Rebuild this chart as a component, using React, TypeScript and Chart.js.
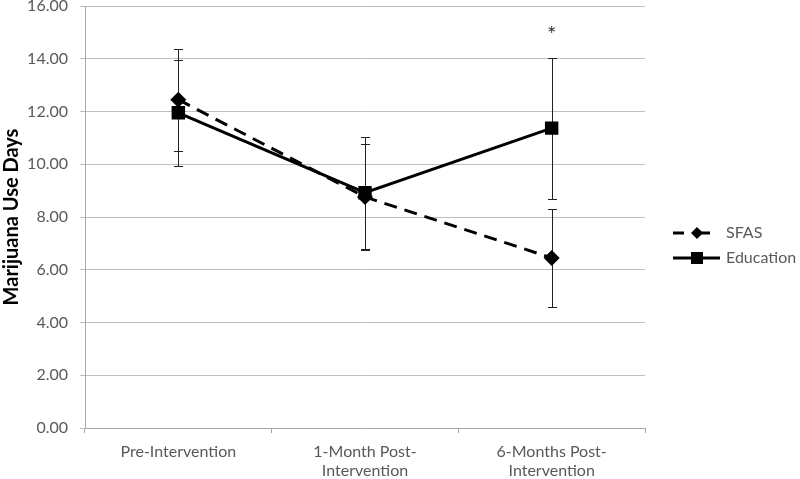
import React, { useEffect, useRef } from "react";
import { Chart, registerables } from "chart.js";

Chart.register(...registerables);

const categories: (string | string[])[] = [
  "Pre-Intervention",
  ["1-Month Post-", "Intervention"],
  ["6-Months Post-", "Intervention"],
];
const sfasValues = [12.45, 8.76, 6.45];
const sfasErrors = [1.93, 2.0, 1.87];
const eduValues = [11.95, 8.92, 11.37];
const eduErrors = [2.0, 2.12, 2.67];
const yTicks = { min: 0, max: 16, step: 2 };
const significance = [null, null, "*"];
const seriesNames = ["SFAS", "Education"];

const FONT = "Lato, 'Liberation Sans', sans-serif";
const TEXT = "#595959";

const errorBarPlugin = {
  id: "errorBars",
  beforeDatasetsDraw(chart: any) {
    const ctx = chart.ctx;
    const y = chart.scales.y;
    const errs = [sfasErrors, eduErrors];
    ctx.save();
    ctx.strokeStyle = "#222";
    ctx.lineWidth = 1;
    chart.data.datasets.forEach((ds: any, di: number) => {
      const meta = chart.getDatasetMeta(di);
      meta.data.forEach((pt: any, i: number) => {
        const v = ds.data[i];
        const e = errs[di][i];
        const top = Math.round(y.getPixelForValue(v + e)) + 0.5;
        const bot = Math.round(y.getPixelForValue(v - e)) + 0.5;
        const x = Math.round(pt.x) + 0.5;
        ctx.beginPath();
        ctx.moveTo(x, top);
        ctx.lineTo(x, bot);
        ctx.moveTo(x - 4.5, top);
        ctx.lineTo(x + 4.5, top);
        ctx.moveTo(x - 4.5, bot);
        ctx.lineTo(x + 4.5, bot);
        ctx.stroke();
      });
    });
    ctx.restore();
  },
  afterDatasetsDraw(chart: any) {
    const ctx = chart.ctx;
    const xs = chart.scales.x;
    const ys = chart.scales.y;
    ctx.save();
    ctx.fillStyle = "#333";
    ctx.font = `22px ${FONT}`;
    ctx.textAlign = "center";
    ctx.textBaseline = "middle";
    significance.forEach((s, i) => {
      if (!s) return;
      const top = Math.max(sfasValues[i] + sfasErrors[i], eduValues[i] + eduErrors[i]);
      ctx.fillText(s, xs.getPixelForValue(i), ys.getPixelForValue(top) - 23);
    });
    ctx.restore();
  },
};

const legendPlugin = {
  id: "customLegend",
  afterDraw(chart: any) {
    const ctx = chart.ctx;
    const area = chart.chartArea;
    const x0 = area.right + 28;
    const yMid = (area.top + area.bottom) / 2;
    const rows = [yMid + 16, yMid + 41];
    ctx.save();
    ctx.fillStyle = "#000";
    ctx.strokeStyle = "#000";
    ctx.lineWidth = 3;
    // SFAS
    let yy = rows[0];
    ctx.beginPath();
    ctx.moveTo(x0, yy);
    ctx.lineTo(x0 + 11, yy);
    ctx.moveTo(x0 + 26, yy);
    ctx.lineTo(x0 + 37, yy);
    ctx.stroke();
    ctx.beginPath();
    ctx.moveTo(x0 + 24, yy - 6);
    ctx.lineTo(x0 + 30, yy);
    ctx.lineTo(x0 + 24, yy + 6);
    ctx.lineTo(x0 + 18, yy);
    ctx.closePath();
    ctx.fill();
    // Education
    yy = rows[1];
    ctx.beginPath();
    ctx.moveTo(x0, yy);
    ctx.lineTo(x0 + 47, yy);
    ctx.stroke();
    ctx.fillRect(x0 + 18, yy - 6, 12, 12);
    ctx.font = `16px ${FONT}`;
    ctx.fillStyle = TEXT;
    ctx.textAlign = "left";
    ctx.textBaseline = "middle";
    ctx.fillText(seriesNames[0], x0 + 53, rows[0]);
    ctx.fillText(seriesNames[1], x0 + 53, rows[1]);
    ctx.restore();
  },
};

export default function App() {
  const ref = useRef<HTMLCanvasElement>(null);
  useEffect(() => {
    if (!ref.current) return;
    const chart = new Chart(ref.current, {
      type: "line",
      data: {
        labels: categories as any,
        datasets: [
          {
            label: seriesNames[0],
            data: sfasValues,
            borderColor: "#000",
            backgroundColor: "#000",
            borderWidth: 3,
            borderDash: [13, 8],
            pointStyle: "rectRot",
            pointRadius: 8,
            pointBorderWidth: 0,
            pointHoverRadius: 8,
            tension: 0,
            order: 1,
          },
          {
            label: seriesNames[1],
            data: eduValues,
            borderColor: "#000",
            backgroundColor: "#000",
            borderWidth: 3,
            pointStyle: "rect",
            pointRadius: 9.5,
            pointBorderWidth: 0,
            pointHoverRadius: 9.5,
            tension: 0,
            order: 0,
          },
        ],
      },
      options: {
        responsive: false,
        animation: false,
        layout: { autoPadding: false, padding: { top: 0, right: 155, left: 0, bottom: 0 } },
        plugins: { legend: { display: false }, tooltip: { enabled: false } },
        scales: {
          x: {
            offset: true,
            grid: {
              offset: true,
              drawOnChartArea: false,
              drawTicks: true,
              tickLength: 5,
              color: "#a6a6a6",
            },
            border: { color: "#a6a6a6" },
            ticks: {
              color: TEXT,
              font: { family: FONT, size: 16 },
              padding: 9,
              maxRotation: 0,
              autoSkip: false,
            },
            afterFit: (s: any) => {
              s.height = 51;
              s.paddingLeft = 0;
              s.paddingRight = 0;
            },
          },
          y: {
            min: yTicks.min,
            max: yTicks.max,
            grid: { color: "#bfbfbf", tickLength: 5 },
            border: { color: "#a6a6a6" },
            ticks: {
              stepSize: yTicks.step,
              color: TEXT,
              font: { family: FONT, size: 16 },
              padding: 12,
              callback: (v: any) => Number(v).toFixed(2),
            },
            title: {
              display: true,
              text: "Marijuana Use Days",
              color: "#000",
              font: { family: FONT, size: 20, weight: "bold" },
              padding: { top: 0, bottom: 0 },
            },
            afterFit: (s: any) => {
              s.width = 85;
              s.paddingTop = 6;
              s.paddingBottom = 0;
            },
          },
        },
      },
      plugins: [errorBarPlugin, legendPlugin],
    });
    return () => chart.destroy();
  }, []);
  return (
    <div style={{ position: "fixed", left: 0, top: 0, width: 800, height: 479, background: "#fff" }}>
      <canvas ref={ref} width={800} height={479} />
    </div>
  );
}
